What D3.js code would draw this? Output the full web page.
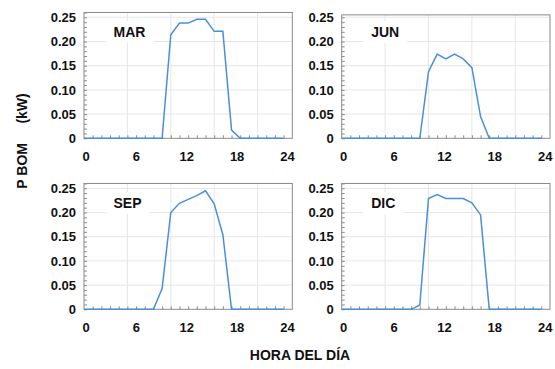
<!DOCTYPE html>
<html>
<head>
<meta charset="utf-8">
<script src="https://cdn.jsdelivr.net/npm/d3@7/dist/d3.min.js"></script>
<style>
  body { margin: 0; background: #fff; }
  text { font-family: "Liberation Sans", Arial, sans-serif; font-weight: bold; fill: #111; }
</style>
</head>
<body>
<div id="chart"></div>
<script>
// hours of the day (one point per hour)
var hours = [0,1,2,3,4,5,6,7,8,9,10,11,12,13,14,15,16,17,18,19,20,21,22,23];
var months = ["MAR", "JUN", "SEP", "DIC"];

// pump power (kW) per hour
var marValues = [0,0,0,0,0,0,0,0,0,0,0.214,0.238,0.238,0.246,0.246,0.221,0.221,0.017,0,0,0,0,0,0];
var junValues = [0,0,0,0,0,0,0,0,0,0,0.1375,0.174,0.164,0.174,0.164,0.146,0.045,0,0,0,0,0,0,0];
var sepValues = [0,0,0,0,0,0,0,0,0,0.043,0.200,0.219,0.227,0.235,0.245,0.218,0.154,0,0,0,0,0,0,0];
var dicValues = [0,0,0,0,0,0,0,0,0,0.009,0.229,0.237,0.229,0.229,0.229,0.220,0.195,0,0,0,0,0,0,0];

var yMax = [0.26, 0.255, 0.26, 0.26];
var yTicks = [0, 0.05, 0.10, 0.15, 0.20, 0.25];
var xTickLabels = [0, 6, 12, 18, 24];
var gridHours = [5, 10, 15, 20];

var series = [marValues, junValues, sepValues, dicValues];

var svg = d3.select("#chart")
    .append("svg")
    .attr("width", 555)
    .attr("height", 369);

var cols = [84, 341.7],
    bottoms = [138.3, 309.3],
    width = 208.3,
    pxPerUnit = 484;

months.forEach(function(m, i) {
    var h = yMax[i] * pxPerUnit;
    var g = svg.append("g")
        .attr("transform", "translate(" + cols[i % 2] + "," + (bottoms[Math.floor(i / 2)] - h) + ")");

    var x = d3.scaleLinear().domain([0, 24]).range([0, width]);
    var y = d3.scaleLinear().domain([0, yMax[i]]).range([h, 0]);
    // the hour labels sit a bit off the hour grid in the original
    var xl = d3.scaleLinear().domain([0, 24]).range([1.5, 203]);

    // grid
    g.selectAll(".hgrid")
        .data(yTicks.filter(function(d){ return d > 0; }))
        .enter().append("line")
        .attr("x1", 0).attr("x2", width)
        .attr("y1", function(d){ return y(d); })
        .attr("y2", function(d){ return y(d); })
        .attr("stroke", "#e6e6e6");
    g.selectAll(".vgrid")
        .data(gridHours)
        .enter().append("line")
        .attr("x1", function(d){ return x(d); })
        .attr("x2", function(d){ return x(d); })
        .attr("y1", 0).attr("y2", h)
        .attr("stroke", "#e6e6e6");

    // month label with white box behind it
    var box = g.append("rect").attr("fill", "#fff");
    var lab = g.append("text")
        .attr("x", x(3.4))
        .attr("y", y(0.209))
        .attr("font-size", "14px")
        .text(m);
    var bb = lab.node().getBBox();
    box.attr("x", bb.x - 8).attr("y", bb.y - 3)
        .attr("width", bb.width + 16).attr("height", bb.height + 6);

    // minor ticks inside the frame
    var minorX = d3.axisBottom(x)
        .tickValues(hours.slice(1))
        .tickSize(-3)
        .tickFormat("");
    g.append("g")
        .attr("transform", "translate(0," + h + ")")
        .call(minorX)
        .call(function(a){ a.select(".domain").remove(); })
        .selectAll("line").attr("stroke", "#8a8a8a");

    var minorY = d3.axisLeft(y)
        .ticks(26)
        .tickSize(-3)
        .tickFormat("");
    g.append("g")
        .call(minorY)
        .call(function(a){ a.select(".domain").remove(); })
        .selectAll("line").attr("stroke", "#8a8a8a");

    // frame
    g.append("rect")
        .attr("width", width).attr("height", h)
        .attr("fill", "none")
        .attr("stroke", "#8a8a8a");

    // y labels
    var yAxisCall = d3.axisLeft(y)
        .tickValues(yTicks)
        .tickSize(0)
        .tickPadding(8)
        .tickFormat(function(d){ return d === 0 ? "0" : d3.format(".2f")(d); });
    g.append("g")
        .call(yAxisCall)
        .call(function(a){ a.select(".domain").remove(); })
        .selectAll("text")
        .attr("font-size", "13px");

    // x labels
    var xAxisCall = d3.axisBottom(xl)
        .tickValues(xTickLabels)
        .tickSize(0)
        .tickPadding(13);
    g.append("g")
        .attr("transform", "translate(0," + h + ")")
        .call(xAxisCall)
        .call(function(a){ a.select(".domain").remove(); })
        .selectAll("text")
        .attr("font-size", "13px");

    // data line
    var line = d3.line()
        .x(function(d, k){ return x(hours[k]); })
        .y(function(d){ return y(d); });
    g.append("path")
        .datum(series[i])
        .attr("d", line)
        .attr("fill", "none")
        .attr("stroke", "#4a90d9")
        .attr("stroke-width", 1.5);
});

// d3 axes set their own font family; let the css one win
svg.selectAll("g").attr("font-family", null);

// axis titles
svg.append("text")
    .attr("x", 300)
    .attr("y", 360)
    .attr("text-anchor", "middle")
    .attr("font-size", "14px")
    .text("HORA DEL DÍA");

svg.append("text")
    .attr("transform", "translate(27,141) rotate(-90)")
    .attr("text-anchor", "middle")
    .attr("font-size", "14px")
    .style("white-space", "pre")
    .text("P BOM     (kW)");
</script>
</body>
</html>
